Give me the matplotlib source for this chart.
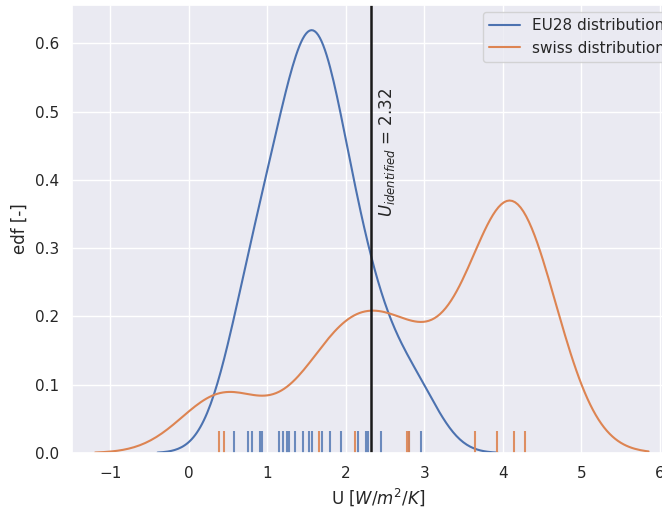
import matplotlib
matplotlib.use("Agg")
import matplotlib.pyplot as plt
import numpy as np
import seaborn as sns

# U-values
eu28_u = [0.58, 0.75, 0.80, 0.90, 0.93, 1.15, 1.20, 1.245, 1.275, 1.345, 1.45,
          1.53, 1.57, 1.69, 1.80, 1.94, 2.15, 2.25, 2.28, 2.45, 2.80, 2.95]
eu28_n = [1, 1, 1, 1, 1, 1, 1, 1, 1, 1, 1,
          2, 2, 3, 2, 2, 1, 1, 1, 1, 1, 1]   # repeated observations per value
swiss_u = [0.38, 0.45, 1.66, 2.11, 2.78, 2.80, 3.64, 3.92, 4.14, 4.28]
swiss_n = [1, 2, 2, 4, 2, 2, 2, 2, 5, 5]
u_identified = 2.32

sns.set_theme(style="darkgrid")

fig = plt.figure(figsize=(6.62, 5.09), dpi=100)
W, H = 662, 509
x0, x1 = -1.49, 6.3
ppu = 78.5
ax = fig.add_axes([72 / W, 56 / H, (x1 - x0) * ppu / W, 448 / H])

eu28_obs = np.repeat(eu28_u, eu28_n)
swiss_obs = np.repeat(swiss_u, swiss_n)
sns.kdeplot(x=eu28_obs, ax=ax, color="C0", bw_adjust=1.07, label="EU28 distribution", linewidth=1.5)
sns.kdeplot(x=swiss_obs, ax=ax, color="C1", bw_adjust=0.78, label="swiss distribution", linewidth=1.5)
sns.rugplot(x=eu28_u, ax=ax, color="C0", height=0.05, linewidth=1.5, alpha=0.8)
sns.rugplot(x=swiss_u, ax=ax, color="C1", height=0.05, linewidth=1.5, alpha=0.9)

ax.axvline(u_identified, color="k", linewidth=1.8)
ax.text(u_identified + 0.2, 0.44, r"$U_{identified}$ = %.2f" % u_identified,
        rotation=90, ha="center", va="center", fontsize=12)

ax.set_xlim(x0, x1)
ax.set_ylim(0, 0.656)
ax.set_xticks(range(-1, 7))
ax.set_xlabel(r"U [$W/m^2/K$]", fontsize=12)
ax.set_ylabel("edf [-]", fontsize=12)
ax.tick_params(labelsize=11)
ax.legend(loc="upper left", bbox_to_anchor=(483 / W, 1 - 12 / H),
          bbox_transform=fig.transFigure, fontsize=11, borderaxespad=0)

fig.savefig("out.png", dpi=100)
